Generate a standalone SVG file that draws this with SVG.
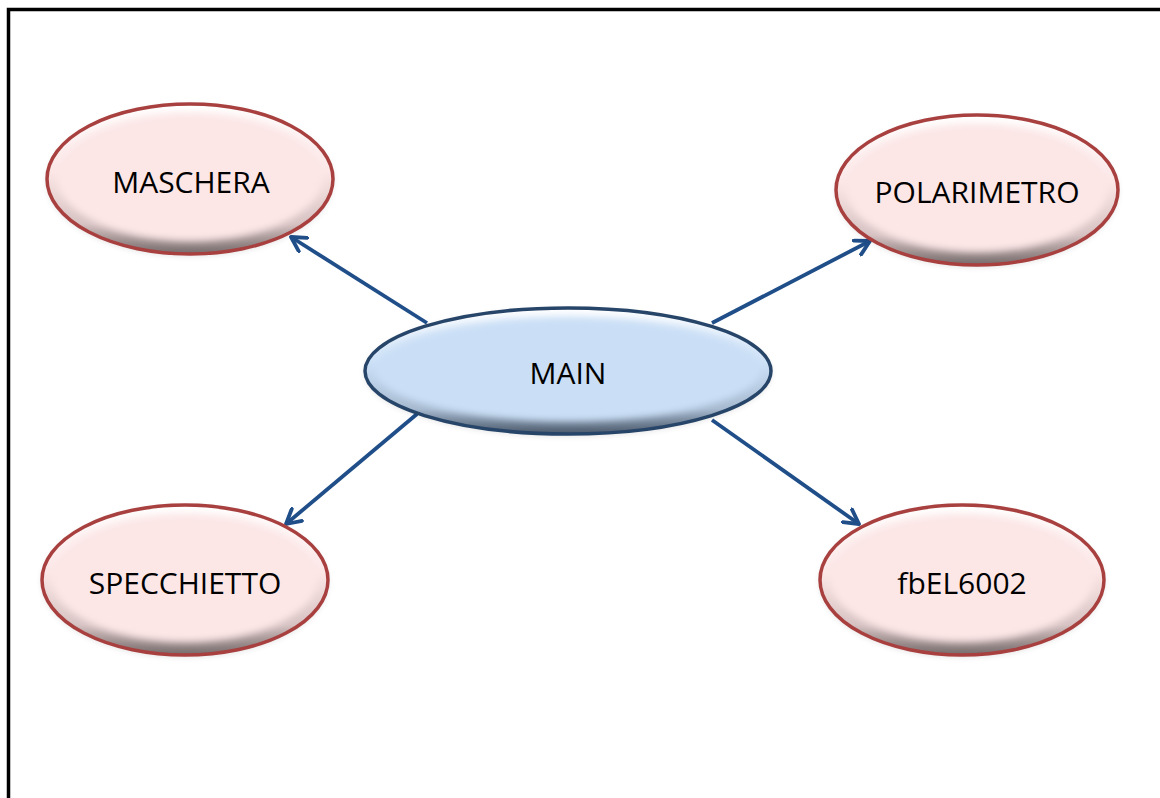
<svg xmlns="http://www.w3.org/2000/svg" width="1160" height="798" viewBox="0 0 1160 798">
  <defs>
    <style>
      .label { font-family: "Open Sans", "Liberation Sans", sans-serif; font-size: 30px; fill: #000; text-anchor: middle; dominant-baseline: central; }
      .edge { fill: none; stroke: #1F4E89; stroke-width: 3.8; marker-end: url(#chev); }
      .rimRed { fill: none; stroke: #A8403F; stroke-width: 3.5; }
      .rimBlue { fill: none; stroke: #274569; stroke-width: 3.5; }
    </style>
    <marker id="chev" viewBox="0 0 12 12" refX="10" refY="6" markerWidth="5" markerHeight="5" orient="auto" markerUnits="strokeWidth">
      <path d="M1,1 L10,6 L1,11" fill="none" stroke="#1F4E89" stroke-width="2.4" stroke-linecap="round" stroke-linejoin="round"/>
    </marker>
    <!-- bevel shading: light at the top rim, dark at the bottom rim -->
    <linearGradient id="bevelRed" x1="0" y1="0" x2="0" y2="1">
      <stop offset="0" stop-color="#ffffff"/>
      <stop offset="0.45" stop-color="#FCE6E6"/>
      <stop offset="0.8" stop-color="#D6C2C2"/>
      <stop offset="1" stop-color="#756a6a"/>
    </linearGradient>
    <linearGradient id="bevelBlue" x1="0" y1="0" x2="0" y2="1">
      <stop offset="0" stop-color="#ffffff"/>
      <stop offset="0.45" stop-color="#CADFF6"/>
      <stop offset="0.8" stop-color="#A6B9CF"/>
      <stop offset="1" stop-color="#4A586A"/>
    </linearGradient>
    <filter id="soft" x="-10%" y="-10%" width="120%" height="120%">
      <feGaussianBlur stdDeviation="3.5"/>
    </filter>
    <filter id="shadow" x="-10%" y="-10%" width="120%" height="130%">
      <feGaussianBlur stdDeviation="3"/>
    </filter>
  </defs>

  <rect x="0" y="0" width="1160" height="798" fill="#ffffff"/>
  <!-- frame: top and left rules -->
  <path d="M8.5,798 L8.5,9.5 L1160,9.5" fill="none" stroke="#000" stroke-width="3.5"/>

  <g id="connectors">
    <line class="edge" x1="427" y1="323" x2="291" y2="237"/>
    <line class="edge" x1="712" y1="323" x2="870" y2="241"/>
    <line class="edge" x1="417" y1="414" x2="286" y2="524"/>
    <line class="edge" x1="712" y1="420" x2="859" y2="524"/>
  </g>

  <g id="node-maschera">
    <ellipse cx="190" cy="181" rx="143" ry="75" fill="#000" opacity="0.12" filter="url(#shadow)"/>
    <ellipse cx="190" cy="179" rx="143" ry="75" fill="url(#bevelRed)"/>
    <ellipse cx="190" cy="177" rx="133" ry="64" fill="#FCE6E6" filter="url(#soft)"/>
    <ellipse class="rimRed" cx="190" cy="179" rx="143" ry="75"/>
    <text class="label" x="191" y="181">MASCHERA</text>
  </g>

  <g id="node-polarimetro">
    <ellipse cx="977" cy="192" rx="141" ry="75" fill="#000" opacity="0.12" filter="url(#shadow)"/>
    <ellipse cx="977" cy="190" rx="141" ry="75" fill="url(#bevelRed)"/>
    <ellipse cx="977" cy="188" rx="131" ry="64" fill="#FCE6E6" filter="url(#soft)"/>
    <ellipse class="rimRed" cx="977" cy="190" rx="141" ry="75"/>
    <text class="label" x="977" y="191">POLARIMETRO</text>
  </g>

  <g id="node-main">
    <ellipse cx="568" cy="373" rx="203" ry="63" fill="#000" opacity="0.12" filter="url(#shadow)"/>
    <ellipse cx="568" cy="371" rx="203" ry="63" fill="url(#bevelBlue)"/>
    <ellipse cx="568" cy="369" rx="193" ry="52" fill="#CADFF6" filter="url(#soft)"/>
    <ellipse class="rimBlue" cx="568" cy="371" rx="203" ry="63"/>
    <text class="label" x="568" y="372">MAIN</text>
  </g>

  <g id="node-specchietto">
    <ellipse cx="185" cy="582" rx="143" ry="75" fill="#000" opacity="0.12" filter="url(#shadow)"/>
    <ellipse cx="185" cy="580" rx="143" ry="75" fill="url(#bevelRed)"/>
    <ellipse cx="185" cy="578" rx="133" ry="64" fill="#FCE6E6" filter="url(#soft)"/>
    <ellipse class="rimRed" cx="185" cy="580" rx="143" ry="75"/>
    <text class="label" x="185" y="582">SPECCHIETTO</text>
  </g>

  <g id="node-fbel6002">
    <ellipse cx="962" cy="582" rx="142" ry="75" fill="#000" opacity="0.12" filter="url(#shadow)"/>
    <ellipse cx="962" cy="580" rx="142" ry="75" fill="url(#bevelRed)"/>
    <ellipse cx="962" cy="578" rx="132" ry="64" fill="#FCE6E6" filter="url(#soft)"/>
    <ellipse class="rimRed" cx="962" cy="580" rx="142" ry="75"/>
    <text class="label" x="962" y="582">fbEL6002</text>
  </g>
</svg>
